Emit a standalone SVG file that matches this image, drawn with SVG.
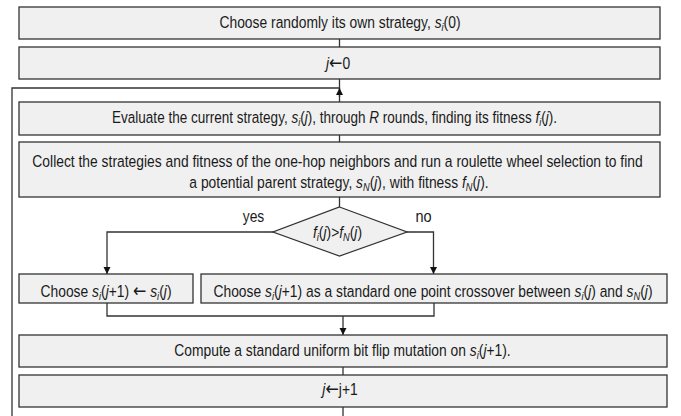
<svg xmlns="http://www.w3.org/2000/svg" width="681" height="416" viewBox="0 0 681 416">
<style>
.box{fill:#f0f0f0;stroke:#333;stroke-width:1.3}
.ln{fill:none;stroke:#333;stroke-width:1.3}
text{font-family:"Liberation Sans",Arial,sans-serif;font-size:16.5px;fill:#1a1a1a;text-anchor:middle}
.i{font-style:italic}
.s{font-size:11px;font-style:italic}
.a{font-family:"DejaVu Sans",sans-serif;font-size:19px}
</style>
<defs>
<marker id="ah" markerUnits="userSpaceOnUse" markerWidth="8" markerHeight="8" refX="7" refY="3.5" orient="auto">
<path d="M0,0 L7,3.5 L0,7 z" fill="#111"/>
</marker>
</defs>
<rect width="681" height="416" fill="#fff"/>
<g id="connectors">
<path class="ln" d="M339.5,39 V47"/>
<path class="ln" d="M339.5,79 V102"/>
<path class="ln" d="M12,416 V88 H339.5"/>
<path class="ln" d="M339.5,97 V88" marker-end="url(#ah)"/>
<path class="ln" d="M339.5,135 V142"/>
<path class="ln" d="M339.5,197 V207"/>
<path class="ln" d="M273,232 H107 V274" marker-end="url(#ah)"/>
<path class="ln" d="M407,232 H433.5 V274" marker-end="url(#ah)"/>
<path class="ln" d="M107,303 V316 H434 V303"/>
<path class="ln" d="M343,316 V335" marker-end="url(#ah)"/>
<path class="ln" d="M343,367 V375"/>
<path class="ln" d="M343,407 V416"/>
</g>
<g id="n1"><rect class="box" x="19" y="7" width="641" height="32"/>
<text transform="translate(340,28) scale(0.84,1)">Choose randomly its own strategy, <tspan class="i">s</tspan><tspan class="s" dy="3">i</tspan><tspan dy="-3">(0)</tspan></text></g>
<g id="n2"><rect class="box" x="19" y="47" width="641" height="32"/>
<text transform="translate(338,69) scale(0.84,1)"><tspan class="i">j</tspan><tspan class="a">←</tspan>0</text></g>
<g id="n3"><rect class="box" x="19" y="102" width="641" height="33"/>
<text transform="translate(334.5,123) scale(0.82,1)">Evaluate the current strategy, <tspan class="i">s</tspan><tspan class="s" dy="3">i</tspan><tspan dy="-3">(</tspan><tspan class="i">j</tspan>), through <tspan class="i">R</tspan> rounds, finding its fitness <tspan class="i">f</tspan><tspan class="s" dy="3">i</tspan><tspan dy="-3">(</tspan><tspan class="i">j</tspan>).</text></g>
<g id="n4"><rect class="box" x="19" y="142" width="641" height="55"/>
<text transform="translate(337.5,167) scale(0.84,1)">Collect the strategies and fitness of the one-hop neighbors and run a roulette wheel selection to find</text>
<text transform="translate(339,188) scale(0.84,1)">a potential parent strategy, <tspan class="i">s</tspan><tspan class="s" dy="3">N</tspan><tspan dy="-3">(</tspan><tspan class="i">j</tspan>), with fitness <tspan class="i">f</tspan><tspan class="s" dy="3">N</tspan><tspan dy="-3">(</tspan><tspan class="i">j</tspan>).</text></g>
<g id="n5"><path class="box" d="M339.5,207 L407,232 L339.5,256 L273,232 z"/>
<text transform="translate(337.5,238) scale(0.84,1)"><tspan class="i">f</tspan><tspan class="s" dy="3">i</tspan><tspan dy="-3">(</tspan><tspan class="i">j</tspan>)&gt;<tspan class="i">f</tspan><tspan class="s" dy="3">N</tspan><tspan dy="-3">(</tspan><tspan class="i">j</tspan>)</text>
<text transform="translate(253.5,222) scale(0.84,1)">yes</text>
<text transform="translate(423.5,222) scale(0.88,1)">no</text></g>
<g id="n6"><rect class="box" x="19" y="274" width="174" height="29"/>
<text transform="translate(106,297) scale(0.84,1)">Choose <tspan class="i">s</tspan><tspan class="s" dy="3">i</tspan><tspan dy="-3">(</tspan><tspan class="i">j</tspan>+1) <tspan class="a">←</tspan> <tspan class="i">s</tspan><tspan class="s" dy="3">i</tspan><tspan dy="-3">(</tspan><tspan class="i">j</tspan>)</text></g>
<g id="n7"><rect class="box" x="201" y="274" width="466" height="29"/>
<text transform="translate(433,297) scale(0.84,1)">Choose <tspan class="i">s</tspan><tspan class="s" dy="3">i</tspan><tspan dy="-3">(</tspan><tspan class="i">j</tspan>+1) as a standard one point crossover between <tspan class="i">s</tspan><tspan class="s" dy="3">i</tspan><tspan dy="-3">(</tspan><tspan class="i">j</tspan>) and <tspan class="i">s</tspan><tspan class="s" dy="3">N</tspan><tspan dy="-3">(</tspan><tspan class="i">j</tspan>)</text></g>
<g id="n8"><rect class="box" x="19" y="335" width="648" height="32"/>
<text transform="translate(342.5,356) scale(0.84,1)">Compute a standard uniform bit flip mutation on <tspan class="i">s</tspan><tspan class="s" dy="3">i</tspan><tspan dy="-3">(</tspan><tspan class="i">j</tspan>+1).</text></g>
<g id="n9"><rect class="box" x="19" y="375" width="648" height="32"/>
<text transform="translate(340,395) scale(0.84,1)"><tspan class="i">j</tspan><tspan class="a">←</tspan>j+1</text></g>
</svg>
